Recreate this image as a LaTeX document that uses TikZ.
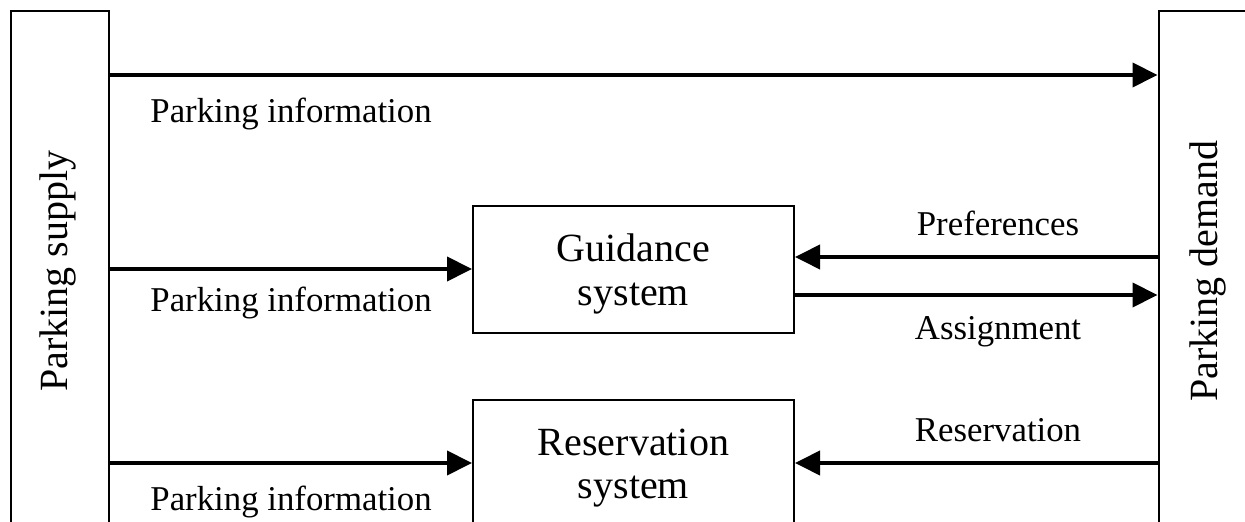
\documentclass[tikz,border=0pt]{standalone}
\usepackage{fontspec}
\setmainfont{Liberation Serif}
\usetikzlibrary{arrows.meta}
\begin{document}
\begin{tikzpicture}[x=0.5pt,y=-0.5pt,
  box/.style={draw,line width=1pt,inner sep=0pt,minimum width=#1},
  arr/.style={line width=2pt,-{Triangle[length=12.5pt,width=12pt]}},
  lbl/.style={font=\fontsize{17.4}{20}\selectfont,inner sep=0pt},
  big/.style={font=\fontsize{20}{21.75}\selectfont,align=center,inner sep=0pt}]
\useasboundingbox (0,0) rectangle (1245,522);
\clip (0,0) rectangle (1245,522);
\node[box=49pt,minimum height=275pt] (supply) at (59.5,286.5) {};
\node[box=60pt,minimum height=275pt] (demand) at (1218.5,286.5) {};
\node[big,rotate=90] (supplytxt) at (58,271) {Parking supply};
\node[big,rotate=90] (demandtxt) at (1208,271) {Parking demand};
\node[box=160.5pt,minimum height=63.5pt] (guid) at (633.5,269.5) {};
\node[big] (guidtxt) at (633.5,274) {Guidance\\system};
\node[box=160.5pt,minimum height=80pt] (res) at (633.5,480) {};
\node[big] (restxt) at (633.5,468) {Reservation\\system};
\draw[arr] (supply.east |- 0,75) -- (demand.west |- 0,75);
\draw[arr] (supply.east |- 0,269) -- (guid.west |- 0,269);
\draw[arr] (demand.west |- 0,257) -- (guid.east |- 0,257);
\draw[arr] (guid.east |- 0,295) -- (demand.west |- 0,295);
\draw[arr] (supply.east |- 0,463) -- (res.west |- 0,463);
\draw[arr] (demand.west |- 0,463) -- (res.east |- 0,463);
\node[lbl,anchor=west] (pi1) at (150,114) {Parking information};
\node[lbl,anchor=west] (pi2) at (150,303) {Parking information};
\node[lbl,anchor=west] (pi3) at (150,502) {Parking information};
\node[lbl] (pref) at (998,223) {Preferences};
\node[lbl] (assign) at (998,332) {Assignment};
\node[lbl] (resv) at (998,430) {Reservation};
\end{tikzpicture}
\end{document}
